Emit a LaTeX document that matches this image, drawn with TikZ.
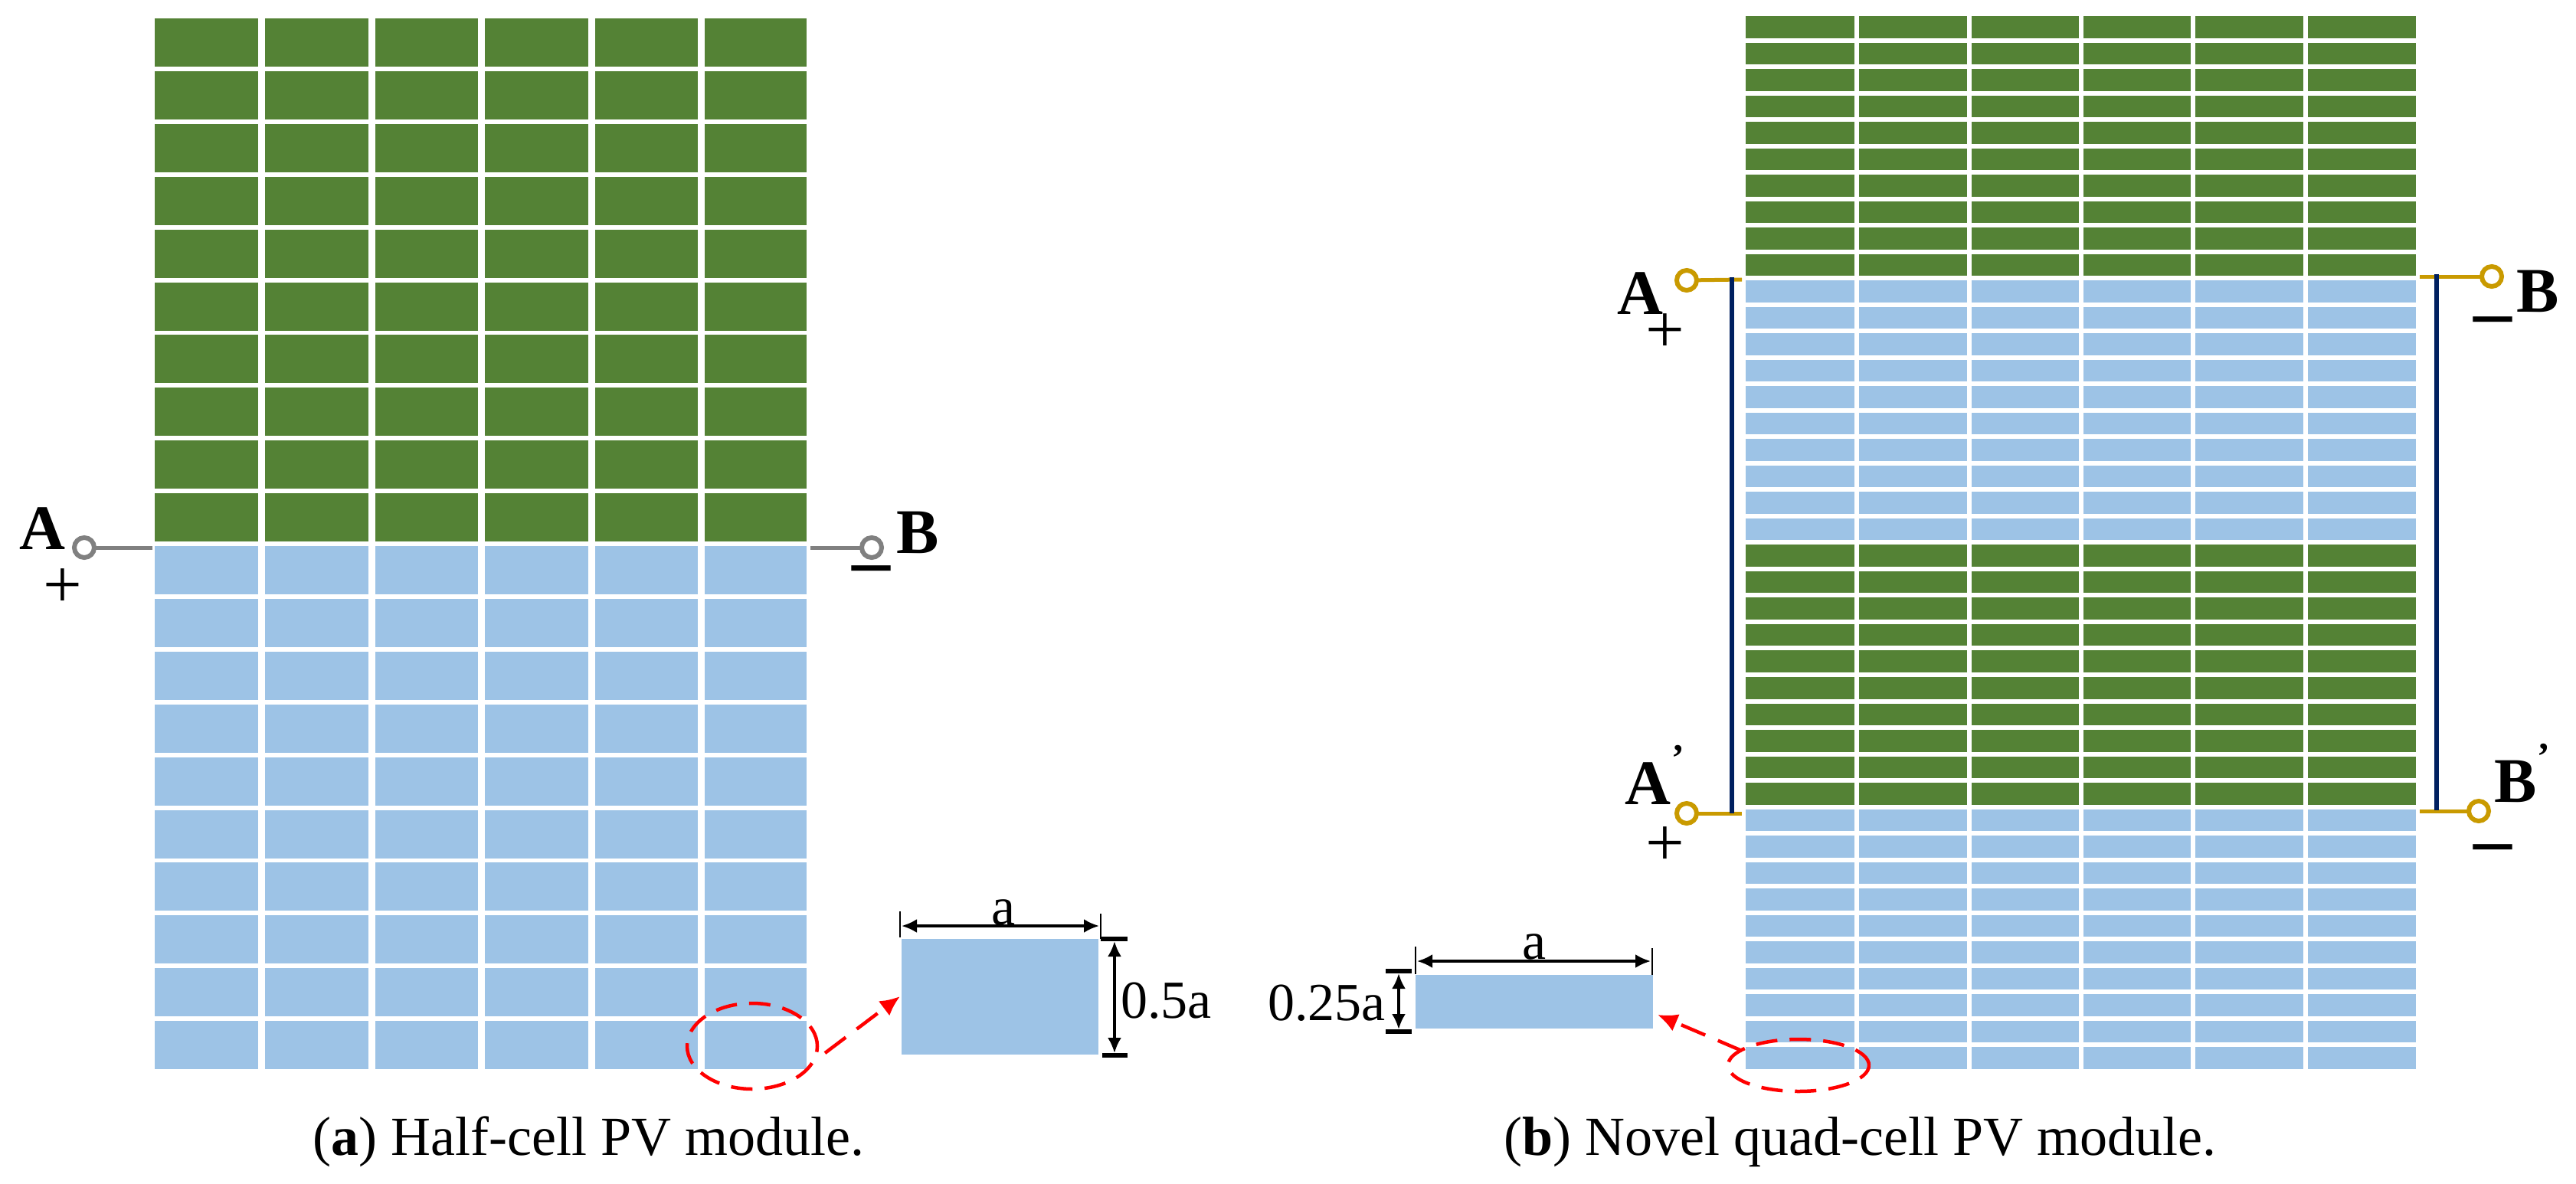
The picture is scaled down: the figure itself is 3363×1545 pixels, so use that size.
\documentclass[tikz,border=0pt]{standalone}
\usepackage{fontspec}
\setmainfont{Liberation Serif}
\usetikzlibrary{arrows.meta,shapes.geometric}
\definecolor{cellgreen}{HTML}{548235}
\definecolor{cellblue}{HTML}{9DC3E6}
\definecolor{wiregold}{HTML}{C99A00}
\definecolor{wiregray}{HTML}{808080}
\definecolor{linkblue}{HTML}{002060}
\newcommand{\fs}[1]{\fontsize{#1}{#1}\selectfont}
\tikzset{
  x=1pt,y=-1pt,
  gcell/.style={fill=cellgreen,draw=none},
  bcell/.style={fill=cellblue,draw=none},
  term/.style={circle,draw=#1,line width=6pt,fill=white,minimum size=26pt,inner sep=0pt,outer sep=0pt},
  wire/.style={draw=#1,line width=5pt},
  link/.style={draw=linkblue,line width=6pt},
  biglabel/.style={font=\fs{83}\bfseries,anchor=base,inner sep=0pt},
  primemark/.style={font=\fs{83}\bfseries,inner sep=0pt,anchor=center},
  signlabel/.style={font=\fs{90},inner sep=0pt,anchor=center},
  minuslabel/.style={font=\fs{100}\bfseries,inner sep=0pt,anchor=center},
  dimtext/.style={font=\fs{70},anchor=base,inner sep=0pt},
  captext/.style={font=\fs{72},anchor=base,inner sep=0pt},
  dimline/.style={draw=black,line width=3.5pt,{Latex[length=20pt,width=18pt]}-{Latex[length=20pt,width=18pt]}},
  tickthin/.style={draw=black,line width=2.5pt},
  tickbold/.style={draw=black,line width=6pt},
  redring/.style={draw=red,line width=4.5pt,dash pattern=on 28pt off 16pt,fill=none},
  redarrow/.style={draw=red,line width=4.5pt,dash pattern=on 34pt off 18pt,-{Latex[length=26pt,width=24pt]}},
}
\begin{document}
\begin{tikzpicture}
\useasboundingbox (0,0) rectangle (3363,1545);
\fill[white] (0,0) rectangle (3363,1545);
% left module
\foreach \r in {0,...,19}{
  \pgfmathsetmacro{\yt}{24+68.9*\r}
  \pgfmathsetmacro{\yb}{\yt+63}
  \ifnum\r<10 \def\sty{gcell}\else\def\sty{bcell}\fi
  \foreach \xl/\xr in {202/337,346/481,490/624,633/768,777/911,920/1053}{
    \path[\sty] (\xl,\yt) rectangle (\xr,\yb);
  }
}
% right module
\foreach \r in {0,...,39}{
  \pgfmathsetmacro{\yt}{21+34.52*\r}
  \pgfmathsetmacro{\yb}{\yt+28.5}
  \pgfmathtruncatemacro{\blk}{int(\r/10)}
  \ifodd\blk \def\sty{bcell}\else\def\sty{gcell}\fi
  \foreach \xl/\xr in {2279/2421,2427/2568,2574/2714,2720/2860,2866/3007,3013/3154}{
    \path[\sty] (\xl,\yt) rectangle (\xr,\yb);
  }
}
% left terminals
\coordinate (wa) at (199,715);
\coordinate (wb) at (1058,715);
\node[term=wiregray] (ta) at (110,715) {};
\node[term=wiregray] (tb) at (1138,715) {};
\draw[wire=wiregray] (ta) -- (wa);
\draw[wire=wiregray] (tb) -- (wb);
\node[biglabel] (la) at (55,717) {A};
\node[biglabel] (lb) at (1198,722) {B};
\node[signlabel] (pa) at (82,768) {+};
\node[minuslabel] (ma) at (1137,752) {–};
% right terminals
\coordinate (wa1) at (2274,365);
\coordinate (wa2) at (2274,1062);
\coordinate (wb1) at (3159,361);
\coordinate (wb2) at (3159,1059);
\node[term=wiregold] (ta1) at (2202,366) {};
\node[term=wiregold] (ta2) at (2202,1062) {};
\node[term=wiregold] (tb1) at (3253,361) {};
\node[term=wiregold] (tb2) at (3236,1059) {};
\draw[wire=wiregold] (ta1) -- (wa1);
\draw[wire=wiregold] (ta2) -- (wa2);
\draw[wire=wiregold] (tb1) -- (wb1);
\draw[wire=wiregold] (tb2) -- (wb2);
\coordinate (la1) at (2261,362);
\coordinate (la2) at (2261,1062);
\coordinate (lb1) at (3181,358);
\coordinate (lb2) at (3181,1058);
\draw[link] (la1) -- (la2);
\draw[link] (lb1) -- (lb2);
\node[biglabel] (ra) at (2141,410) {A};
\node[biglabel] (ra2) at (2151,1050) {A};
\node[biglabel] (rb) at (3313,407) {B};
\node[biglabel] (rb2) at (3284,1047) {B};
\node[font=\fs{50}\bfseries,inner sep=0pt] (pra) at (2191,990) {'};
\node[font=\fs{50}\bfseries,inner sep=0pt] (prb) at (3321,988) {'};
\node[signlabel] (pa1) at (2174,435) {+};
\node[signlabel] (pa2) at (2174,1105) {+};
\node[minuslabel] (mb1) at (3254,427) {–};
\node[minuslabel] (mb2) at (3254,1116) {–};
% inset a
\path[bcell] (1177,1226) rectangle (1434,1377);
\coordinate (a1) at (1175,1190); \coordinate (a1b) at (1175,1224);
\coordinate (a2) at (1437,1193); \coordinate (a2b) at (1437,1226);
\draw[tickthin] (a1) -- (a1b);
\draw[tickthin] (a2) -- (a2b);
\coordinate (a3) at (1177,1209); \coordinate (a4) at (1435,1209);
\draw[dimline] (a3) -- (a4);
\node[dimtext] (ta) at (1310,1207) {a};
\coordinate (v1) at (1437,1226); \coordinate (v1b) at (1472,1226);
\coordinate (v2) at (1439,1378); \coordinate (v2b) at (1472,1378);
\draw[tickbold] (v1) -- (v1b);
\draw[tickbold] (v2) -- (v2b);
\coordinate (v3) at (1455,1229); \coordinate (v4) at (1455,1375);
\draw[dimline] (v3) -- (v4);
\node[dimtext,anchor=base west] (t05) at (1463,1329) {0.5a};
\node[ellipse,draw,redring,minimum width=170pt,minimum height=112pt,inner sep=0pt] (ea) at (982,1366) {};
\coordinate (ra1) at (1175,1301);
\draw[redarrow] (1077,1375) -- (ra1);
% inset b
\path[bcell] (1848,1273) rectangle (2158,1343);
\coordinate (b1) at (1848,1236); \coordinate (b1b) at (1848,1272);
\coordinate (b2) at (2157,1238); \coordinate (b2b) at (2157,1273);
\draw[tickthin] (b1) -- (b1b);
\draw[tickthin] (b2) -- (b2b);
\coordinate (b3) at (1850,1255); \coordinate (b4) at (2155,1255);
\draw[dimline] (b3) -- (b4);
\node[dimtext] (tb) at (2003,1252) {a};
\coordinate (h1) at (1809,1268); \coordinate (h1b) at (1843,1268);
\coordinate (h2) at (1809,1347); \coordinate (h2b) at (1843,1347);
\draw[tickbold] (h1) -- (h1b);
\draw[tickbold] (h2) -- (h2b);
\coordinate (h3) at (1826,1271); \coordinate (h4) at (1826,1344);
\draw[dimline] (h3) -- (h4);
\node[dimtext,anchor=base east] (t25) at (1809,1332) {0.25a};
\node[ellipse,draw,redring,minimum width=184pt,minimum height=68pt,inner sep=0pt] (eb) at (2348,1391) {};
\coordinate (rb1) at (2164,1325);
\draw[redarrow] (2274,1372) -- (rb1);
% captions
\node[captext,anchor=base west] (ca) at (408,1508) {(\textbf{a}) Half-cell PV module.};
\node[captext,anchor=base west] (cb) at (1963,1508) {(\textbf{b}) Novel quad-cell PV module.};
\end{tikzpicture}
\end{document}
